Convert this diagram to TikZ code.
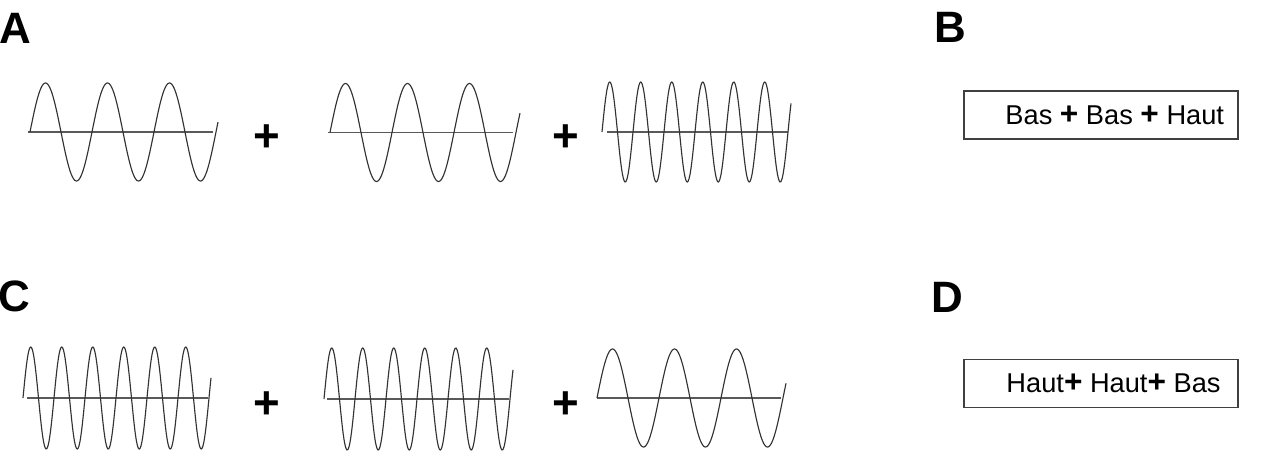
\documentclass[tikz,border=0pt]{standalone}
\usepackage{fontspec}
\setmainfont{Liberation Sans}
\usetikzlibrary{positioning}

\begin{document}
\begin{tikzpicture}[
                x=0.02cm, y=-0.02cm,
                letter/.style={anchor=base west, inner sep=0pt, font=\fontsize{25}{28}\selectfont\bfseries},
                plus/.style={inner sep=0pt, font=\fontsize{26}{30}\selectfont\bfseries},
                wave/.style={draw=black!80, line width=0.65pt, samples=240, smooth},
                axis/.style={draw=black!65, line width=0.9pt},
                sumbox/.style={rectangle, draw=black!75, line width=0.7pt, minimum width=5.48cm, minimum height=0.96cm, inner sep=0pt, font=\fontsize{15.5}{18}\selectfont},
            ]
            \newcommand{\bplus}{{\fontsize{18}{18}\selectfont\bfseries+}}
            \useasboundingbox (0,0) rectangle (1278,467);
            % panel letters
            \node[letter] (lA) at (-1,43) {A};
            \node[letter] (lB) at (934,42) {B};
            \node[letter] (lC) at (-2,311) {C};
            \node[letter] (lD) at (931,312) {D};
            % row A: low + low + high
            \draw[axis] (28,132) -- (213,132);
            \draw[wave] plot[domain=0:188] ({30+\x},{132-49*sin(\x/62*360)});
            \node[plus] (pA1) at (267,138) {+};
            \draw[axis] (328,132.5) -- (513,132.5);
            \draw[wave] plot[domain=0:190] ({330+\x},{132.5-49*sin(\x/62*360)});
            \node[plus] (pA2) at (566,138) {+};
            \draw[axis] (607,132) -- (788,132);
            \draw[wave] plot[domain=0:189] ({602+\x},{132-50*sin(\x/31*360)});
            % row C: high + high + low
            \draw[axis] (27,398) -- (208,398);
            \draw[wave] plot[domain=0:188] ({23+\x},{398-51*sin(\x/31*360)});
            \node[plus] (pC1) at (267,405) {+};
            \draw[axis] (327,399) -- (509,399);
            \draw[wave] plot[domain=0:189] ({324+\x},{399-51*sin(\x/31*360)});
            \node[plus] (pC2) at (566,405) {+};
            \draw[axis] (597,398) -- (781,398);
            \draw[wave] plot[domain=0:189] ({597+\x},{398-49*sin(\x/62*360)});
            % answer boxes
            \node[sumbox] (sB) at (1101,115) {\hspace*{0.55cm}Bas \bplus{} Bas \bplus{} Haut};
            \node[sumbox] (sD) at (1101,383.5) {\hspace*{0.5cm}Haut\bplus{} Haut\bplus{} Bas};
        \end{tikzpicture}
\end{document}
